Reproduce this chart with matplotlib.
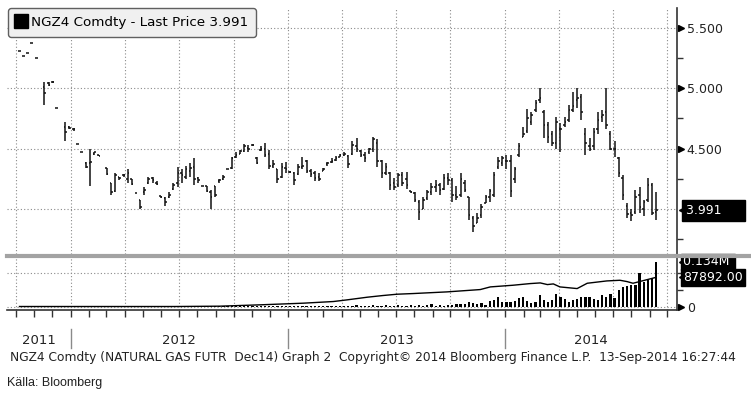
import numpy as np
import pandas as pd
import matplotlib
matplotlib.use('Agg')
import matplotlib.pyplot as plt
from matplotlib.lines import Line2D
from matplotlib.transforms import blended_transform_factory, offset_copy
import matplotlib.dates as mdates

plt.rcParams['font.family'] = ['DejaVu Sans']

# weekly bars, NGZ4 Comdty (Dec14 natural gas future)
weeks = pd.date_range('2011-10-07', periods=154, freq='W-FRI')

opens = [5.31, 5.27, 5.29, 5.37, 5.25, None, 5.01, 5.04, 5.05, 4.84, None, 4.68, 4.68, 4.66, 4.54, 4.47,
         4.38, 4.38, 4.46, 4.45, None, 4.34, 4.22, 4.15, 4.27, 4.28, 4.25, 4.25, 4.13, 4.08, 4.14, 4.22,
         4.26, 4.22, 4.11, 4.09, 4.10, 4.17, 4.22, 4.30, 4.27, 4.32, 4.35, 4.26, 4.19, 4.19, 4.14, 4.19,
         4.23, 4.25, 4.33, 4.34, 4.43, 4.46, 4.48, 4.51, 4.53, 4.42, 4.49, 4.50, 4.46, 4.36, 4.33, 4.27,
         4.34, 4.31, 4.30, 4.29, 4.35, 4.40, 4.32, 4.30, 4.27, 4.32, 4.37, 4.39, 4.41, 4.43, 4.45, 4.44,
         4.46, 4.52, 4.48, 4.45, 4.47, 4.50, 4.55, 4.40, 4.30, 4.30, 4.22, 4.20, 4.28, 4.25, 4.15, 4.13,
         4.06, 4.00, 4.09, 4.14, 4.18, 4.20, 4.17, 4.26, 4.24, 4.12, 4.12, 4.22, 4.10, 3.93, 3.89, 3.95,
         4.05, 4.10, 4.12, 4.35, 4.38, 4.40, 4.40, 4.25, 4.45, 4.60, 4.65, 4.72, 4.82, 4.90, 4.80, 4.70,
         4.62, 4.55, 4.66, 4.70, 4.74, 4.82, 4.90, 4.93, 4.62, 4.52, 4.52, 4.66, 4.76, 4.80, 4.62, 4.50,
         4.42, 4.26, 4.03, 3.97, 3.98, 4.12, 4.00, 4.08, 4.20, 3.98]
highs = [5.31, 5.27, 5.29, 5.37, 5.25, None, 5.05, 5.05, 5.06, 4.84, None, 4.72, 4.69, 4.67, 4.54, 4.47,
         4.39, 4.50, 4.47, 4.45, None, 4.34, 4.22, 4.30, 4.27, 4.29, 4.33, 4.25, 4.13, 4.08, 4.18, 4.27,
         4.27, 4.23, 4.11, 4.10, 4.14, 4.22, 4.35, 4.33, 4.36, 4.38, 4.42, 4.27, 4.19, 4.19, 4.16, 4.19,
         4.25, 4.28, 4.33, 4.43, 4.47, 4.49, 4.54, 4.53, 4.54, 4.43, 4.52, 4.55, 4.49, 4.41, 4.33, 4.38,
         4.39, 4.32, 4.31, 4.37, 4.43, 4.41, 4.33, 4.32, 4.30, 4.34, 4.39, 4.42, 4.44, 4.46, 4.47, 4.45,
         4.56, 4.59, 4.49, 4.47, 4.51, 4.60, 4.58, 4.41, 4.38, 4.31, 4.26, 4.30, 4.31, 4.31, 4.15, 4.14,
         4.08, 4.10, 4.16, 4.22, 4.24, 4.22, 4.29, 4.30, 4.26, 4.19, 4.30, 4.24, 4.10, 3.94, 3.97, 4.04,
         4.12, 4.17, 4.31, 4.43, 4.44, 4.45, 4.45, 4.35, 4.55, 4.68, 4.83, 4.80, 4.90, 5.00, 4.82, 4.72,
         4.65, 4.76, 4.71, 4.76, 4.86, 4.97, 5.00, 4.95, 4.67, 4.59, 4.67, 4.80, 4.82, 5.00, 4.65, 4.56,
         4.43, 4.28, 4.05, 4.00, 4.16, 4.18, 4.08, 4.26, 4.22, 4.14]
lows = [5.31, 5.27, 5.29, 5.37, 5.25, None, 4.86, 5.02, 5.04, 4.84, None, 4.56, 4.66, 4.65, 4.54, 4.47,
        4.34, 4.19, 4.45, 4.44, None, 4.28, 4.12, 4.14, 4.24, 4.27, 4.22, 4.20, 4.13, 4.00, 4.12, 4.21,
        4.22, 4.20, 4.09, 4.03, 4.09, 4.16, 4.18, 4.22, 4.25, 4.27, 4.20, 4.22, 4.19, 4.14, 4.00, 4.10,
        4.22, 4.24, 4.33, 4.33, 4.42, 4.46, 4.47, 4.47, 4.52, 4.37, 4.48, 4.43, 4.33, 4.34, 4.22, 4.26,
        4.30, 4.30, 4.20, 4.28, 4.33, 4.30, 4.27, 4.23, 4.23, 4.32, 4.36, 4.38, 4.40, 4.43, 4.44, 4.34,
        4.45, 4.47, 4.43, 4.39, 4.46, 4.47, 4.35, 4.26, 4.28, 4.16, 4.16, 4.18, 4.19, 4.17, 4.13, 4.06,
        3.91, 4.00, 4.08, 4.12, 4.14, 4.12, 4.16, 4.20, 4.06, 4.08, 4.10, 4.14, 3.91, 3.81, 3.89, 3.93,
        4.05, 4.06, 4.10, 4.33, 4.36, 4.33, 4.10, 4.22, 4.43, 4.60, 4.63, 4.70, 4.80, 4.88, 4.59, 4.55,
        4.52, 4.50, 4.47, 4.68, 4.72, 4.80, 4.84, 4.74, 4.45, 4.48, 4.49, 4.62, 4.72, 4.66, 4.49, 4.43,
        4.27, 4.08, 3.93, 3.90, 3.96, 3.97, 3.94, 4.06, 3.95, 3.91]
closes = [5.31, 5.27, 5.29, 5.37, 5.25, None, 4.96, 5.03, 5.05, 4.84, None, 4.64, 4.67, 4.66, 4.54, 4.47,
          4.35, 4.39, 4.47, 4.44, None, 4.29, 4.14, 4.28, 4.26, 4.28, 4.30, 4.21, 4.13, 4.02, 4.16, 4.25,
          4.24, 4.21, 4.10, 4.06, 4.12, 4.20, 4.30, 4.28, 4.33, 4.34, 4.25, 4.24, 4.19, 4.15, 4.10, 4.12,
          4.24, 4.27, 4.33, 4.42, 4.45, 4.48, 4.52, 4.50, 4.53, 4.38, 4.50, 4.45, 4.36, 4.37, 4.25, 4.35,
          4.33, 4.31, 4.24, 4.35, 4.36, 4.32, 4.29, 4.26, 4.25, 4.33, 4.38, 4.40, 4.42, 4.45, 4.46, 4.37,
          4.53, 4.50, 4.45, 4.42, 4.50, 4.58, 4.40, 4.30, 4.35, 4.20, 4.18, 4.28, 4.22, 4.20, 4.14, 4.08,
          3.98, 4.08, 4.14, 4.18, 4.20, 4.16, 4.26, 4.24, 4.12, 4.10, 4.25, 4.16, 3.95, 3.86, 3.93, 4.02,
          4.10, 4.15, 4.28, 4.40, 4.42, 4.40, 4.15, 4.33, 4.52, 4.62, 4.75, 4.78, 4.88, 4.92, 4.70, 4.60,
          4.55, 4.72, 4.66, 4.72, 4.82, 4.85, 4.92, 4.80, 4.55, 4.50, 4.64, 4.74, 4.78, 4.70, 4.50, 4.50,
          4.30, 4.12, 3.96, 3.95, 4.10, 4.02, 4.06, 4.20, 3.97, 3.991]

# weekly volume, thousands of contracts
volume = [0] * 37 + [
    1, 1, 2, 1, 1, 2, 1, 1, 2, 1, 2, 1, 1, 2, 1, 2, 2, 1, 2, 1,
    2, 1, 2, 3, 2, 1, 2, 2, 3, 2, 2, 3, 2, 2, 3, 2, 3, 2, 3, 3,
    2, 3, 3, 2, 4, 3, 2, 3, 4, 3, 2, 4, 3, 3, 4, 3, 3, 4, 3, 4, 3, 4,
    9, 3, 4, 3, 5, 4, 8, 7, 8, 15, 10, 9, 10, 6,
    18, 20, 30, 13, 13, 15, 18, 26, 28, 18, 10, 13, 36, 20, 13, 20, 37, 28, 23, 15,
    20, 23, 28, 28, 28, 23, 21, 36, 28, 39, 26, 51, 59, 61, 64, 66, 100, 74, 81, 86, 134]

# open interest, thousands of contracts
oi_dates = pd.to_datetime(['2011-10-07', '2012-06-24', '2012-09-08', '2012-11-14', '2013-01-26',
                           '2013-03-18', '2013-04-10', '2013-05-14', '2013-06-09', '2013-07-03',
                           '2013-07-30', '2013-09-25', '2013-11-20', '2013-12-07', '2014-01-14',
                           '2014-02-12', '2014-03-01', '2014-03-13', '2014-03-23', '2014-04-03',
                           '2014-05-02', '2014-05-19', '2014-06-21', '2014-07-13', '2014-07-25',
                           '2014-08-04', '2014-08-28', '2014-09-12'])
oi_values = [0, 0, 1, 5, 10, 15, 20, 28, 33, 37, 39, 44, 51, 59, 64, 69, 71, 66, 68, 59,
             54, 70, 77, 79, 75, 70, 81, 87.892]

price_ticks = [4.0, 4.5, 5.0, 5.5]
price_labels = ['', '4.500', '5.000', '5.500']
years = [2011, 2012, 2013, 2014]
footer = ('NGZ4 Comdty (NATURAL GAS FUTR  Dec14) Graph 2  Copyright\u00a9 2014 '
          'Bloomberg Finance L.P.  13-Sep-2014 16:27:44')
source = 'K\u00e4lla: Bloomberg'

W, H = 751, 396
def fx(px):
    return px / W
def fy(py):
    return 1 - py / H

fig = plt.figure(figsize=(W / 100, H / 100), dpi=100)
ax = fig.add_axes([fx(7), fy(254), 670 / W, 246 / H])
axv = fig.add_axes([fx(7), fy(310), 670 / W, 52 / H])

xmin, xmax = pd.Timestamp('2011-09-16'), pd.Timestamp('2014-10-17')
grid_kw = dict(color='#8a8a8a', lw=0.8, ls=(0, (1, 2)), zorder=0)
quarters = pd.date_range('2011-10-01', '2014-10-01', freq='QS')

# ---- price panel
o = np.array(opens, dtype=float)
h = np.array(highs, dtype=float)
l = np.array(lows, dtype=float)
c = np.array(closes, dtype=float)
ok = ~np.isnan(c)
xd = mdates.date2num(weeks)[ok]
ax.vlines(xd, l[ok], h[ok], color='#111111', lw=1.1)
ax.hlines(o[ok], xd - 2.5, xd, color='#111111', lw=1.1)
ax.hlines(c[ok], xd, xd + 2.5, color='#111111', lw=1.1)

ax.set_xlim(xmin, xmax)
ax.set_ylim(3.63, 5.663)
for q in quarters:
    ax.axvline(q, **grid_kw)
    axv.axvline(q, **grid_kw)
for p in price_ticks:
    ax.axhline(p, **grid_kw)

for s in ['left', 'top', 'bottom']:
    ax.spines[s].set_visible(False)
ax.spines['right'].set_color('#333333')
ax.spines['right'].set_linewidth(1.2)
ax.tick_params(axis='x', bottom=False, labelbottom=False)
ax.yaxis.tick_right()
ax.set_yticks(price_ticks)
ax.set_yticklabels(price_labels)
ax.set_yticks([3.75, 4.25, 4.75, 5.25], minor=True)
ax.tick_params(axis='y', which='major', length=0, pad=7, labelsize=9, labelcolor='#222222')
ax.tick_params(axis='y', which='minor', length=4, width=1, color='#333333')

bt = blended_transform_factory(ax.transAxes, ax.transData)
ax.plot([1.0] * 3, price_ticks[1:], transform=offset_copy(bt, fig=fig, x=4, y=0, units='dots'),
        marker='>', ms=5, color='black', ls='none', clip_on=False)

last = closes[-1]
ax.plot([1.0], [last], transform=offset_copy(bt, fig=fig, x=11, y=0, units='dots'),
        marker='<', ms=13, color='black', ls='none', clip_on=False)
ax.text(1.0, last, '%.3f     ' % last, transform=offset_copy(bt, fig=fig, x=9, y=0, units='dots'),
        ha='left', va='center', color='white', fontsize=9,
        bbox=dict(boxstyle='square,pad=0.3', fc='black', ec='black'), clip_on=False)

handle = Line2D([], [], marker='s', ms=9.5, color='black', ls='none')
leg = ax.legend([handle], ['NGZ4 Comdty - Last Price %.3f' % last], loc='upper left',
                bbox_to_anchor=(0.0015, 1.0), borderaxespad=0, fancybox=True, framealpha=1,
                facecolor='#f0f0f0', edgecolor='#606060', fontsize=9.7, handlelength=0.8,
                handletextpad=0.3, borderpad=0.6)
leg.get_frame().set_linewidth(1.0)

# ---- volume / open interest panel
axv.bar(weeks, volume, width=3.8, color='black', zorder=2)
axv.plot(oi_dates, oi_values, color='black', lw=1, zorder=3)
axv.set_xlim(xmin, xmax)
axv.set_ylim(-10.5, 146)
axv.axhline(0, **grid_kw)
axv.axhline(100, **grid_kw)
for s in ['left', 'top']:
    axv.spines[s].set_visible(False)
for s in ['right', 'bottom']:
    axv.spines[s].set_color('#333333')
    axv.spines[s].set_linewidth(1.2)
axv.xaxis.set_major_locator(mdates.MonthLocator())
axv.tick_params(axis='x', length=5, width=1, color='#333333', labelbottom=False)
axv.yaxis.tick_right()
axv.set_yticks([0])
axv.set_yticklabels(['0'])
axv.set_yticks([50, 100], minor=True)
axv.tick_params(axis='y', which='major', length=0, pad=7, labelsize=9, labelcolor='#222222')
axv.tick_params(axis='y', which='minor', length=4, width=1, color='#333333')
btv = blended_transform_factory(axv.transAxes, axv.transData)
axv.plot([1.0], [0], transform=offset_copy(btv, fig=fig, x=4, y=0, units='dots'),
         marker='>', ms=5, color='black', ls='none', clip_on=False)
for val, txt in [(volume[-1], '%.3fM ' % (volume[-1] / 1000)), (oi_values[-1], '%.2f' % (oi_values[-1] * 1000))]:
    axv.plot([1.0], [val], transform=offset_copy(btv, fig=fig, x=9, y=0, units='dots'),
             marker='<', ms=10, color='black', ls='none', clip_on=False)
    axv.text(1.0, val, txt, transform=offset_copy(btv, fig=fig, x=6, y=0, units='dots'),
             ha='left', va='center', color='white', fontsize=9,
             bbox=dict(boxstyle='square,pad=0.15', fc='black', ec='black'), clip_on=False)

# separator between panels
fig.add_artist(Line2D([fx(7), 1], [fy(256), fy(256)], transform=fig.transFigure,
                      color='#a3a3a3', lw=3, zorder=10))

# year labels and separators
bx = blended_transform_factory(axv.transData, fig.transFigure)
for yr in years:
    a = max(pd.Timestamp('%d-01-01' % yr), xmin)
    b = min(pd.Timestamp('%d-01-01' % (yr + 1)), xmax)
    mid = mdates.date2num(a) + (mdates.date2num(b) - mdates.date2num(a)) / 2
    fig.text(mid, fy(340), str(yr), transform=bx, ha='center', va='center', fontsize=9.5, color='#222222')
    if yr > years[0]:
        fig.add_artist(Line2D([mdates.date2num(a)] * 2, [fy(329), fy(348)], transform=bx,
                              color='#8a8a8a', lw=1))

ft = fig.text(fx(10), fy(357), footer, ha='left', va='center', fontsize=9, color='#222222')
fig.text(fx(7), fy(383), source, ha='left', va='center', fontsize=9, family='Liberation Sans',
         color='#222222')

fig.canvas.draw()
r = fig.canvas.get_renderer()
wd = ft.get_window_extent(r).width
ft.set_fontsize(ft.get_fontsize() * 732 / wd)

fig.savefig('out.png', dpi=100)
